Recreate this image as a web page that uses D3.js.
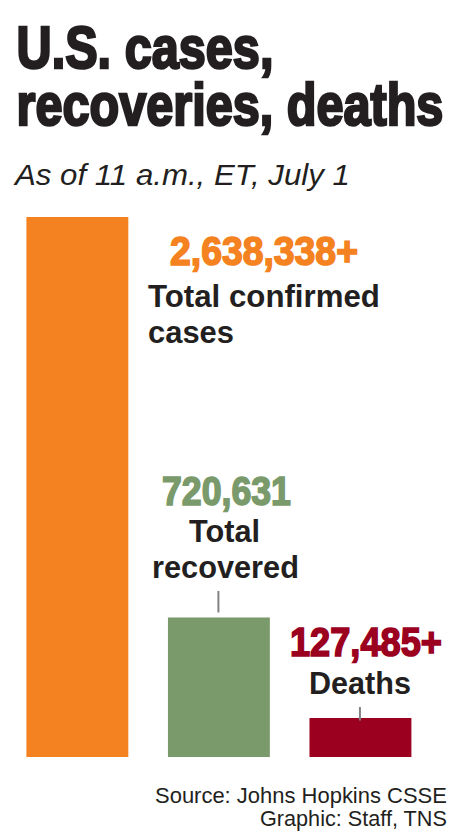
<!DOCTYPE html>
<html>
<head>
<meta charset="utf-8">
<script src="https://d3js.org/d3.v7.min.js"></script>
<style>
html, body { margin: 0; padding: 0; background: #fff; }
svg { display: block; }
</style>
</head>
<body></body>
<script>
var categories = ["Total confirmed cases", "Total recovered", "Deaths"];
var valueLabels = ["2,638,338+", "720,631", "127,485+"];
// bar lengths as measured on the picture, the printed bars are not quite to scale with the labels
var barValues = [2638338, 681600, 190600];
var barColors = ["#f58220", "#7a9a6b", "#9b001f"];

var width = 458, height = 835;
var ink = "#231f20";

var svg = d3.select("body").append("svg")
  .attr("width", width)
  .attr("height", height)
  .style("background-color", "#fff");

var x = d3.scaleBand().domain(categories).range([26.4, 411.4]).paddingInner(0.28).paddingOuter(0);
var y = d3.scaleLinear().domain([0, d3.max(barValues)]).range([757, 217]);

svg.selectAll("rect.bar")
  .data(categories)
  .enter().append("rect")
  .attr("class", "bar")
  .attr("x", function (d) { return x(d); })
  .attr("y", function (d, i) { return y(barValues[i]); })
  .attr("width", x.bandwidth())
  .attr("height", function (d, i) { return y(0) - y(barValues[i]); })
  .attr("fill", function (d, i) { return barColors[i]; });

// leader ticks, the deaths one runs slightly into its bar
svg.selectAll("line.leader")
  .data([1, 2])
  .enter().append("line")
  .attr("class", "leader")
  .attr("x1", function (i) { return x(categories[i]) + x.bandwidth() / 2 - 0.5; })
  .attr("x2", function (i) { return x(categories[i]) + x.bandwidth() / 2 - 0.5; })
  .attr("y1", function (i) { return i === 1 ? 591 : 707; })
  .attr("y2", function (i) { return i === 1 ? 612.5 : 720.5; })
  .attr("stroke", "#808285")
  .attr("stroke-width", 2);

// squeeze each text horizontally to the width it has in the picture
function addText(o) {
  var t = svg.append("text")
    .attr("font-family", "Liberation Sans")
    .attr("font-size", o.size)
    .attr("font-weight", o.weight || "bold")
    .attr("font-style", o.style || "normal")
    .attr("fill", o.fill || ink)
    .text(o.text);
  var natural = t.node().getComputedTextLength();
  t.attr("transform", "translate(" + o.x + "," + o.y + ") scale(" + (o.w / natural) + ",1)");
  if (o.heavy) {
    t.attr("stroke", o.fill || ink).attr("stroke-width", o.heavy);
  }
}

// headline
addText({text: "U.S. cases,", x: 16.5, y: 68, w: 257, size: 60, heavy: 2.6});
addText({text: "recoveries, deaths", x: 16.5, y: 125, w: 427, size: 60, heavy: 2.6});
addText({text: "As of 11 a.m., ET, July 1", x: 15, y: 185, w: 335, size: 30, weight: "normal", style: "italic"});

// value labels
addText({text: valueLabels[0], x: 170, y: 265, w: 188, size: 40, fill: barColors[0], heavy: 1.6});
addText({text: valueLabels[1], x: 162, y: 505, w: 129, size: 40, fill: barColors[1], heavy: 1.6});
addText({text: valueLabels[2], x: 290, y: 656, w: 152, size: 40, fill: barColors[2], heavy: 1.6});

// category labels
addText({text: "Total confirmed", x: 148, y: 307, w: 232, size: 31});
addText({text: "cases", x: 148, y: 343, w: 86, size: 31});
addText({text: "Total", x: 189, y: 542, w: 71, size: 31});
addText({text: "recovered", x: 152, y: 578, w: 147, size: 31});
addText({text: categories[2], x: 309, y: 694, w: 102, size: 31});

// credits
addText({text: "Source: Johns Hopkins CSSE", x: 155, y: 803, w: 292, size: 21.5, weight: "normal"});
addText({text: "Graphic: Staff, TNS", x: 260, y: 826, w: 187, size: 21.5, weight: "normal"});
</script>
</html>
